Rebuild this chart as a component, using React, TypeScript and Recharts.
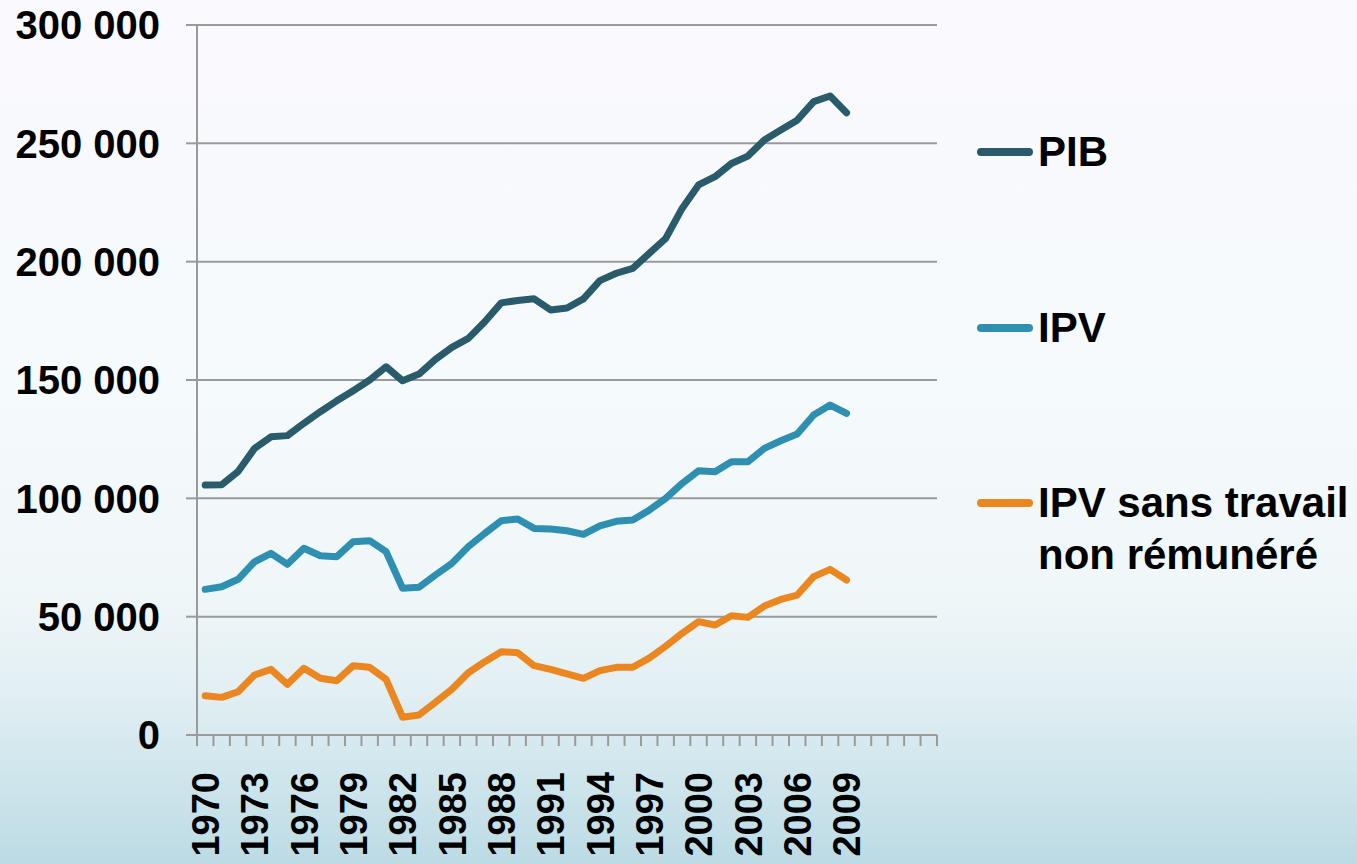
import React from 'react';
import { LineChart, Line, XAxis, YAxis, CartesianGrid } from 'recharts';

// categories (the last 5 slots are empty in the source chart)
const years = [
  '1970', '1971', '1972', '1973', '1974', '1975', '1976', '1977', '1978', '1979',
  '1980', '1981', '1982', '1983', '1984', '1985', '1986', '1987', '1988', '1989',
  '1990', '1991', '1992', '1993', '1994', '1995', '1996', '1997', '1998', '1999',
  '2000', '2001', '2002', '2003', '2004', '2005', '2006', '2007', '2008', '2009',
  '', '', '', '', '',
];

const pib = [
  105600, 105700, 111300, 121100, 126000, 126500, 131700, 136600, 141200, 145500,
  150000, 155600, 149700, 152500, 158700, 163800, 167600, 174600, 182600, 183600,
  184300, 179600, 180400, 184300, 192000, 195100, 197200, 203500, 209800, 222500,
  232400, 235900, 241500, 244600, 251400, 255600, 259800, 267600, 270000, 262900,
];

const ipv = [
  61550, 62650, 65800, 73200, 76750, 72100, 78900, 75750, 75350, 81700,
  82100, 77450, 62000, 62400, 67600, 72500, 79600, 85200, 90550, 91250,
  87300, 87000, 86300, 84800, 88400, 90300, 90800, 95000, 100000, 106300,
  111700, 111250, 115500, 115500, 121100, 124350, 127200, 135200, 139400, 135900,
];

const ipvSansTravail = [
  16600, 15900, 18300, 25350, 27750, 21400, 28200, 23950, 22950, 29300,
  28600, 23500, 7500, 8450, 13800, 19300, 26300, 31000, 35200, 34800,
  29300, 27750, 25800, 23950, 27200, 28600, 28600, 32500, 37500, 42950,
  47900, 46500, 50400, 49700, 54500, 57300, 59150, 66900, 70000, 65500,
];

const yTicks = [0, 50000, 100000, 150000, 200000, 250000, 300000];

const series = [
  { key: 'pib', name: 'PIB', color: '#2a5b6b', lines: ['PIB'] },
  { key: 'ipv', name: 'IPV', color: '#2f8fb1', lines: ['IPV'] },
  { key: 'ipvst', name: 'IPV sans travail non rémunéré', color: '#eb8720', lines: ['IPV sans travail', 'non rémunéré'] },
];

const data = years.map((year, i) => ({
  year,
  pib: pib[i],
  ipv: ipv[i],
  ipvst: ipvSansTravail[i],
}));

const W = 1357;
const H = 864;
const MARGIN = { top: 25, right: 420, left: 0, bottom: 0 };
const Y_AXIS_W = 197;
const X_AXIS_H = 129;
const BAND = (W - MARGIN.right - MARGIN.left - Y_AXIS_W) / years.length;
const FONT = '"Liberation Sans", Arial, sans-serif';
const GRID = '#9a9a9a';

function YearTick(props: any) {
  const { x, y, payload, index } = props;
  const label = payload.value;
  const show = label !== '' && index % 3 === 0;
  return (
    <g>
      <line x1={x - BAND / 2} x2={x - BAND / 2} y1={y} y2={y + 11} stroke={GRID} strokeWidth={2} />
      {index === years.length - 1 && (
        <line x1={x + BAND / 2} x2={x + BAND / 2} y1={y} y2={y + 11} stroke={GRID} strokeWidth={2} />
      )}
      {show && (
        <text
          x={x}
          y={y + 37}
          dy="0.36em"
          transform={`rotate(-90, ${x}, ${y + 37})`}
          textAnchor="end"
          fontSize={38}
          fontWeight={700}
          fontFamily={FONT}
          fill="#000"
        >
          {label}
        </text>
      )}
    </g>
  );
}

export default function App() {
  return (
    <div
      style={{
        position: 'absolute',
        left: 0,
        top: 0,
        width: W,
        height: H,
        overflow: 'hidden',
        background: 'linear-gradient(to bottom, #faf9fe 0%, #f5fafc 45%, #f0f7f9 68%, #e2eff3 80%, #bcdbe5 100%)',
        fontFamily: FONT,
      }}
    >
      <LineChart width={W} height={H} data={data} margin={MARGIN}>
        <CartesianGrid vertical={false} stroke={GRID} strokeWidth={2} />
        <XAxis
          dataKey="year"
          interval={0}
          height={X_AXIS_H}
          padding={{ left: BAND / 2, right: BAND / 2 }}
          tickSize={0}
          tickMargin={0}
          tickLine={false}
          axisLine={{ stroke: GRID, strokeWidth: 2 }}
          tick={<YearTick />}
        />
        <YAxis
          width={Y_AXIS_W}
          domain={[0, 300000]}
          ticks={yTicks}
          interval={0}
          tickSize={11}
          tickMargin={26}
          tickLine={{ stroke: GRID, strokeWidth: 2 }}
          axisLine={{ stroke: GRID, strokeWidth: 2 }}
          tick={{ fill: '#000', fontSize: 40, fontWeight: 700, fontFamily: FONT }}
          tickFormatter={(v: number) => (v === 0 ? '0' : `${v / 1000} 000`)}
        />
        {series.map((s) => (
          <Line
            key={s.key}
            type="linear"
            dataKey={s.key}
            name={s.name}
            stroke={s.color}
            strokeWidth={7}
            strokeLinecap="round"
            strokeLinejoin="round"
            dot={false}
            activeDot={false}
            isAnimationActive={false}
          />
        ))}
      </LineChart>

      {/* legend */}
      {series.map((s, i) => (
        <div
          key={s.key}
          style={{ position: 'absolute', left: 977, top: 152 + i * 175.5 - 26 }}
        >
          <div
            style={{
              position: 'absolute',
              left: 0,
              top: 22,
              width: 56,
              height: 8,
              borderRadius: 4,
              background: s.color,
            }}
          />
          <div
            style={{
              position: 'absolute',
              left: 61,
              top: 0,
              fontSize: 42,
              fontWeight: 700,
              lineHeight: '52px',
              color: '#000',
              whiteSpace: 'nowrap',
            }}
          >
            {s.lines.map((t) => (
              <div key={t}>{t}</div>
            ))}
          </div>
        </div>
      ))}
    </div>
  );
}
